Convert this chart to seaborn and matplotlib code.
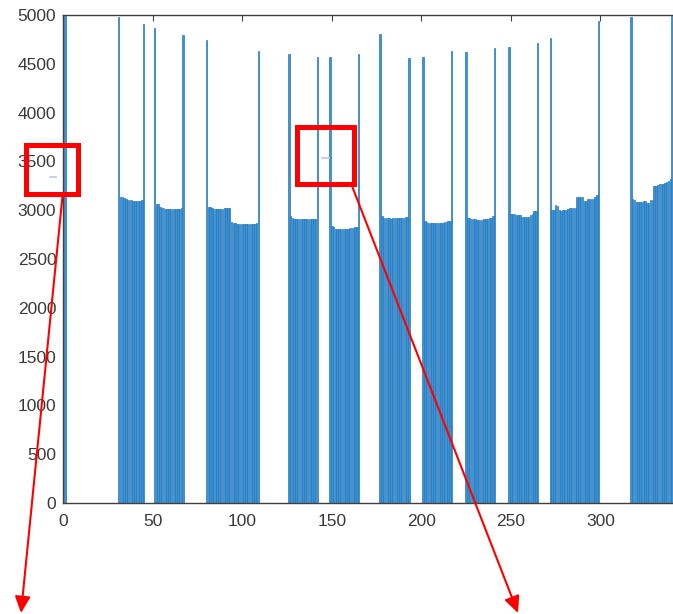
import numpy as np
import pandas as pd
import matplotlib
matplotlib.use("Agg")
import matplotlib.pyplot as plt
from matplotlib.patches import Rectangle, FancyArrowPatch
import seaborn as sns

# Bar positions (sample index) and their values
positions = (
    [1]
    + list(range(31, 46))
    + list(range(51, 68))
    + list(range(80, 110))
    + list(range(126, 143))
    + list(range(149, 166))
    + list(range(177, 194))
    + list(range(201, 218))
    + list(range(225, 242))
    + list(range(249, 266))
    + list(range(272, 300))
    + list(range(317, 341))
)

first_spike = [4990]
group1 = [4976, 3140, 3135, 3122, 3118, 3105, 3100, 3100, 3098, 3098, 3097,
          3097, 3098, 3100, 4908]
group2 = [4863, 3065, 3060, 3030, 3020, 3018, 3015, 3015, 3015, 3015, 3015,
          3015, 3012, 3012, 3015, 3020, 4792]
group3 = [4741, 3030, 3028, 3025, 3015, 3010, 3010, 3008, 3010, 3010, 3018,
          3018, 3020, 3018, 2875, 2872, 2868, 2860, 2860, 2858, 2858, 2860,
          2860, 2858, 2860, 2860, 2862, 2862, 2865, 4634]
group4 = [4604, 2940, 2925, 2910, 2910, 2908, 2910, 2912, 2910, 2908, 2910,
          2910, 2912, 2910, 2910, 2912, 4573]
group5 = [4566, 2842, 2830, 2812, 2812, 2810, 2812, 2812, 2810, 2812, 2812,
          2814, 2818, 2822, 2825, 2828, 4604]
group6 = [4805, 2940, 2925, 2915, 2915, 2915, 2912, 2915, 2915, 2915, 2915,
          2915, 2920, 2925, 2930, 2935, 4556]
group7 = [4570, 2885, 2875, 2868, 2868, 2866, 2868, 2868, 2866, 2868, 2868,
          2872, 2878, 2882, 2888, 2893, 4634]
group8 = [4621, 2918, 2915, 2906, 2906, 2906, 2900, 2900, 2900, 2900, 2905,
          2905, 2905, 2915, 2925, 2940, 4659]
group9 = [4672, 2962, 2960, 2958, 2952, 2950, 2948, 2935, 2935, 2935, 2935,
          2935, 2955, 2958, 2990, 2995, 4717]
group10 = [4761, 3002, 3002, 3050, 3040, 2998, 2995, 3000, 3005, 3005, 3008,
           3018, 3020, 3020, 3022, 3138, 3138, 3138, 3135, 3095, 3092, 3112,
           3115, 3115, 3118, 3140, 3155, 4935]
group11 = [4983, 3110, 3105, 3085, 3082, 3082, 3082, 3095, 3092, 3075, 3072,
           3100, 3100, 3248, 3250, 3255, 3265, 3268, 3270, 3275, 3292, 3295,
           3315, 4990]

values = (first_spike + group1 + group2 + group3 + group4 + group5 + group6
          + group7 + group8 + group9 + group10 + group11)

x_ticks = [0, 50, 100, 150, 200, 250, 300]
y_ticks = [0, 500, 1000, 1500, 2000, 2500, 3000, 3500, 4000, 4500, 5000]

df = pd.DataFrame({"index": positions, "value": values})

sns.set_style("white")
plt.rcParams["font.family"] = ["Liberation Sans", "DejaVu Sans"]

W, H = 673, 614
fig = plt.figure(figsize=(W / 100, H / 100), dpi=100)

# main axes: the right part runs past the canvas edge
ax_left, ax_bottom = 63.2, 503.0
px_per_unit = 1.7907
x_max = 350
ax = fig.add_axes([ax_left / W, (H - ax_bottom) / H,
                   x_max * px_per_unit / W, 488.0 / H])

sns.barplot(data=df, x="index", y="value", native_scale=True, width=0.8,
            color="#3d92d1", saturation=1, edgecolor="#2479c0",
            linewidth=0.5, ax=ax)

ax.set_xlim(0, x_max)
ax.set_ylim(0, 5000)
ax.set_xticks(x_ticks)
ax.set_xticklabels([str(t) for t in x_ticks])
ax.set_yticks(y_ticks)
ax.set_yticklabels([str(t) for t in y_ticks])
ax.set_xlabel("")
ax.set_ylabel("")

axis_color = "#404040"
for side in ["left", "bottom", "top"]:
    ax.spines[side].set_visible(True)
    ax.spines[side].set_color(axis_color)
    ax.spines[side].set_linewidth(1.0)
ax.spines["right"].set_visible(False)
ax.tick_params(axis="both", direction="in", length=4, width=0.8,
               colors=axis_color, labelsize=12.5, labelcolor="#3a3a3a")
ax.tick_params(axis="x", top=True, pad=8)
ax.tick_params(axis="y", right=False, pad=5)

# overlay in pixel coordinates for the red call-outs
ov = fig.add_axes([0, 0, 1, 1])
ov.set_xlim(0, W)
ov.set_ylim(H, 0)
ov.axis("off")
ov.patch.set_alpha(0)

red = "#ff0000"
ov.add_patch(Rectangle((26, 144.5), 52, 49, fill=False, edgecolor=red,
                       linewidth=3.6))
ov.add_patch(Rectangle((296.5, 126.5), 57, 57, fill=False, edgecolor=red,
                       linewidth=3.6))

# small faint marks inside the boxes
ov.plot([50, 56], [177, 177], color="#c9cdf0", linewidth=1.5)
ov.plot([322, 329], [158, 158], color="#c9cdf0", linewidth=1.5)

for start, end in [((62.5, 196), (21, 613)), ((352, 186), (518, 613))]:
    ov.add_patch(FancyArrowPatch(start, end,
                                 arrowstyle="-|>,head_length=1.0,head_width=0.47",
                                 mutation_scale=10, color=red, linewidth=1.5,
                                 shrinkA=0, shrinkB=0))

fig.savefig("out.png", dpi=100)
